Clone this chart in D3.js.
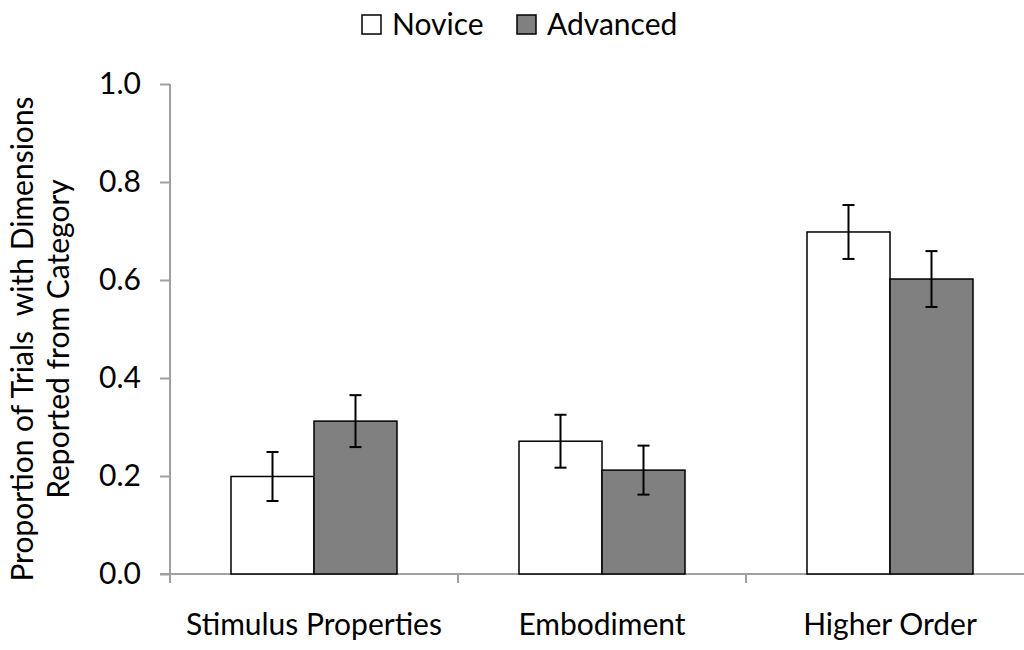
<!DOCTYPE html>
<html>
<head>
<meta charset="utf-8">
<script src="https://cdn.jsdelivr.net/npm/d3@7"></script>
<style>
  body { margin: 0; background: white; }
  text { font-family: Lato, "Open Sans", sans-serif; fill: #000; }
</style>
</head>
<body>
<script>
// Data
let categories = ['Stimulus Properties', 'Embodiment', 'Higher Order'];
let series = ['Novice', 'Advanced'];
let novice = [0.199, 0.271, 0.698];
let advanced = [0.312, 0.212, 0.602];
let noviceErr = [0.050, 0.054, 0.055];
let advancedErr = [0.053, 0.050, 0.057];
let yTicks = [0, 0.2, 0.4, 0.6, 0.8, 1.0];

let fills = { Novice: '#ffffff', Advanced: '#808080' };

let width = 1024,
    height = 650;

let margin = { top: 84, bottom: 76, left: 170 };

let svg = d3.select('body')
  .append('svg')
  .attr('width', width)
  .attr('height', height)
  .style('background', 'white');

let yScale = d3.scaleLinear()
  .domain([0, 1])
  .range([height - margin.bottom, margin.top]);

// each category gets 288px, the last one runs past the right edge
let xScale = d3.scaleBand()
  .domain(categories)
  .range([margin.left, margin.left + 288 * 3]);

let inner = d3.scaleBand()
  .domain(series)
  .range([61, 288 - 61]);

// y axis
let yAxis = svg.append('g')
  .attr('transform', `translate(${margin.left},0)`)
  .call(d3.axisLeft(yScale).tickValues(yTicks).tickFormat(d3.format('.1f')).tickSize(10).tickSizeOuter(0).tickPadding(19));
yAxis.selectAll('path, line').attr('stroke', '#a0a0a0').attr('stroke-width', 2);
yAxis.selectAll('line').attr('x1', -10).attr('x2', 0);
yAxis.selectAll('text').style('font-size', '30px').attr('font-family', null);
yAxis.select('.domain').attr('d', `M0,${yScale(1)}V${yScale(0) + 9}`);

// x axis
let xAxis = svg.append('g')
  .attr('transform', `translate(0,${yScale(0)})`)
  .call(d3.axisBottom(xScale).tickSize(0).tickSizeOuter(0).tickPadding(40));
xAxis.selectAll('path').attr('stroke', '#a0a0a0').attr('stroke-width', 2);
xAxis.selectAll('text').style('font-size', '30px').attr('font-family', null);
xAxis.select('.domain').attr('d', `M${margin.left - 10},0H${width}`);

// category separator ticks
svg.selectAll('.sep')
  .data(categories)
  .enter()
  .append('line')
  .attr('x1', d => xScale(d))
  .attr('x2', d => xScale(d))
  .attr('y1', yScale(0))
  .attr('y2', yScale(0) + 9)
  .attr('stroke', '#a0a0a0')
  .attr('stroke-width', 2);

// build rows
let rows = [];
categories.forEach((c, i) => {
  rows.push({ cat: c, s: 'Novice', v: novice[i], e: noviceErr[i] });
  rows.push({ cat: c, s: 'Advanced', v: advanced[i], e: advancedErr[i] });
});

// bars
svg.selectAll('.bar')
  .data(rows)
  .enter()
  .append('rect')
  .attr('x', d => xScale(d.cat) + inner(d.s))
  .attr('y', d => yScale(d.v))
  .attr('width', inner.bandwidth())
  .attr('height', d => yScale(0) - yScale(d.v))
  .attr('fill', d => fills[d.s])
  .attr('stroke', '#000')
  .attr('stroke-width', 1.5);

// error bars
let eb = svg.selectAll('.err')
  .data(rows)
  .enter()
  .append('g')
  .attr('transform', d => `translate(${xScale(d.cat) + inner(d.s) + inner.bandwidth() / 2},0)`);
eb.append('line')
  .attr('y1', d => yScale(d.v + d.e))
  .attr('y2', d => yScale(d.v - d.e))
  .attr('stroke', '#000').attr('stroke-width', 2);
eb.append('line')
  .attr('x1', -6).attr('x2', 6)
  .attr('y1', d => yScale(d.v + d.e))
  .attr('y2', d => yScale(d.v + d.e))
  .attr('stroke', '#000').attr('stroke-width', 2);
eb.append('line')
  .attr('x1', -6).attr('x2', 6)
  .attr('y1', d => yScale(d.v - d.e))
  .attr('y2', d => yScale(d.v - d.e))
  .attr('stroke', '#000').attr('stroke-width', 2);

// y label
let yl = svg.append('text')
  .attr('transform', `translate(0,${(yScale(0) + yScale(1)) / 2 + 10}) rotate(-90)`)
  .attr('text-anchor', 'middle')
  .style('font-size', '30px');
yl.append('tspan').attr('x', 0).attr('y', 33).text('Proportion of Trials  with Dimensions').attr('xml:space', 'preserve');
yl.append('tspan').attr('x', 0).attr('y', 69).text('Reported from Category');

// legend
let legendX = [362, 517];
let lg = svg.selectAll('.lg')
  .data(series)
  .enter()
  .append('g')
  .attr('transform', (d, i) => `translate(${legendX[i]},15)`);
lg.append('rect')
  .attr('width', 19).attr('height', 19)
  .attr('fill', d => fills[d])
  .attr('stroke', '#000').attr('stroke-width', 1.5);
lg.append('text')
  .attr('x', 30).attr('y', 20)
  .style('font-size', '30px')
  .text(d => d);
</script>
</body>
</html>
